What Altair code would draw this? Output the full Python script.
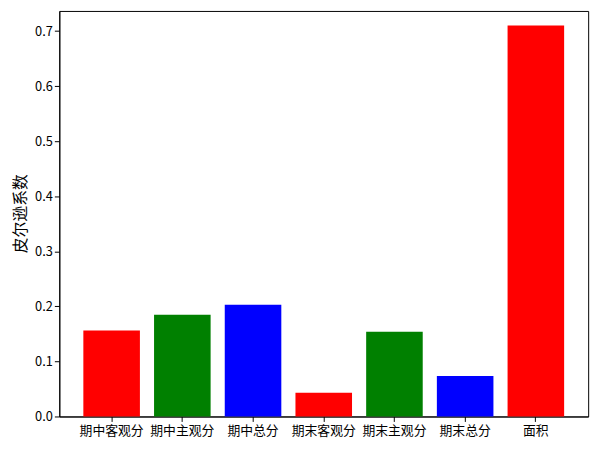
import altair as alt
import pandas as pd

categories = ["期中客观分", "期中主观分", "期中总分", "期末客观分", "期末主观分", "期末总分", "面积"]
values = [0.156, 0.185, 0.203, 0.043, 0.154, 0.0735, 0.710]
colors = ["#ff0000", "#008000", "#0000ff", "#ff0000", "#008000", "#0000ff", "#ff0000"]

df = pd.DataFrame({"cat": categories, "val": values, "color": colors})

FONT = "Noto Sans CJK SC"

chart = alt.Chart(df).mark_bar().encode(
    x=alt.X("cat:N", sort=categories,
            scale=alt.Scale(paddingInner=0.2, paddingOuter=0.34),
            axis=alt.Axis(title=None, labelAngle=0, labelFontSize=13, labelFont=FONT,
                          labelColor="black", tickColor="black", domainColor="black",
                          tickSize=5, labelPadding=3)),
    y=alt.Y("val:Q", scale=alt.Scale(domain=[0, 0.7366], nice=False, zero=True),
            axis=alt.Axis(title="皮尔逊系数", titleFontSize=16, titleFont=FONT,
                          titleFontWeight="normal", titleColor="black",
                          titleX=-39, titleY=205, titleAngle=270,
                          titleAlign="center", titleBaseline="middle",
                          values=[0, 0.1, 0.2, 0.3, 0.4, 0.5, 0.6, 0.7], format=".1f",
                          labelFontSize=13, labelFont=FONT, labelColor="black",
                          tickColor="black", domainColor="black", tickSize=5, grid=False)),
    color=alt.Color("color:N", scale=None),
).properties(
    width=536, height=411,
    autosize=alt.AutoSizeParams(type="none"),
    padding={"left": 52, "top": 0, "right": 13, "bottom": 33},
).configure_view(stroke="black", strokeWidth=1).configure_axis(grid=False)

chart.save("out.html", embed_options={"renderer": "svg", "actions": False})
